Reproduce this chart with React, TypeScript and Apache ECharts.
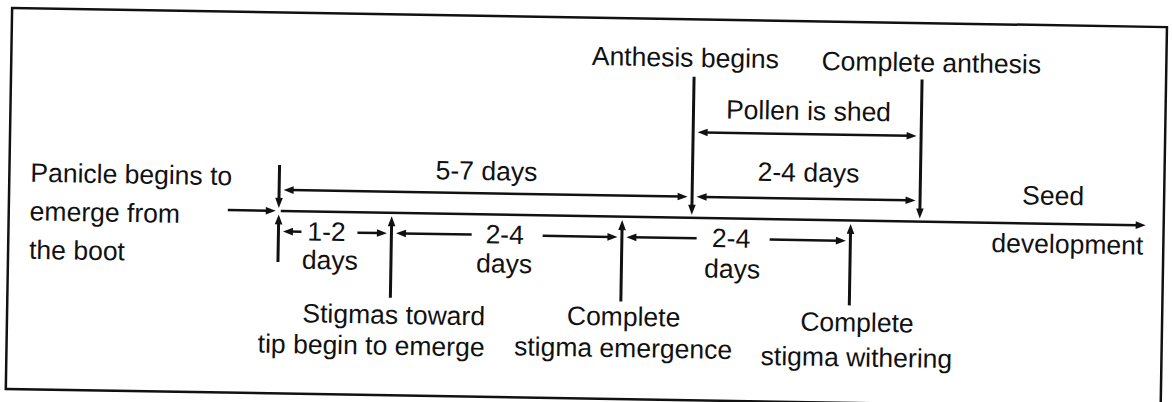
import React, { useEffect, useRef } from "react";
import * as echarts from "echarts";

// ---------------- data ----------------
// Stages of panicle development, placed along the (unscaled) timeline axis
const stageNames = [
  "Panicle begins to emerge from the boot",
  "Stigmas toward tip begin to emerge",
  "Complete stigma emergence",
  "Anthesis begins",
  "Complete stigma withering",
  "Complete anthesis",
];
const stageAt = [279, 392, 622.5, 692, 851, 920];
const stageSide = ["both", "below", "below", "above", "below", "above"];
const stageLines = [
  ["Panicle begins to", "emerge from", "the boot"],
  ["Stigmas toward", "tip begin to emerge"],
  ["Complete", "stigma emergence"],
  ["Anthesis begins"],
  ["Complete", "stigma withering"],
  ["Complete anthesis"],
];

// Intervals between stages
const spanLabels = ["Pollen is shed", "5-7 days", "2-4 days", "1-2", "2-4", "2-4"];
const spanUnit = ["", "", "", "days", "days", "days"];
const spanFrom = [3, 0, 3, 0, 1, 2];
const spanTo = [5, 3, 5, 1, 2, 4];

const endLabels = ["Seed", "development"];

// ---------------- layout ----------------
const W = 1172;
const H = 402;
const SKEW = 0.95; // the scanned figure is slightly rotated
const MAIN_Y = 216;
const TIMELINE_START = 228;
const TIMELINE_END = 1146;
const INK = "#111";
const FONT = "Liberation Sans, Arial, Helvetica, sans-serif";
const FS = 26.5;
const HEAD_L = 10;
const HEAD_W = 3.8;
const GAP = 4.5;

const stageTop = [170, 0, 0, 75, 0, 74];
const stageBottom = [267, 301, 301, 0, 301, 0];
const stageLabelX = [30, 487, 625.5, 683, 859, 929];
const stageLabelAlign = ["left", "right", "center", "center", "center", "center"];
const stageLabelY = [[182, 220.5, 259], [318, 349], [316, 347.5], [56], [318, 353], [57]];

const spanRowY = [130.5, 195, 195, 236.5, 236.5, 236.5];
const spanLabelY = [107.3, 172.7, 169, 236, 236, 236];
const spanLabelShift = [1, 0.5, 2, -8.5, -2, -5];
const spanUnitY = [0, 0, 0, 264.5, 265, 266.5];
const spanUnitShift = [0, 0, 0, 4, 0, 1.5];
const spanInnerGap = [null, null, null, [25, 31], [33, 38], [34.5, 38.5]];

const endLabelX = [1053, 1068];
const endLabelY = [188, 236.3];

// ---------------- geometry built from data ----------------
type Seg = { x1: number; y1: number; x2: number; y2: number; head: [boolean, boolean]; w: number };
const segs: Seg[] = [];
segs.push({ x1: TIMELINE_START, y1: MAIN_Y, x2: stageAt[0] - 3, y2: MAIN_Y, head: [false, true], w: 2.5 });
segs.push({ x1: stageAt[0] + 2, y1: MAIN_Y, x2: TIMELINE_END, y2: MAIN_Y, head: [false, true], w: 2.5 });
stageAt.forEach((x, i) => {
  const side = stageSide[i];
  if (side === "above" || side === "both") {
    segs.push({ x1: x, y1: stageTop[i], x2: x, y2: MAIN_Y - 3, head: [false, true], w: 3 });
  }
  if (side === "below" || side === "both") {
    segs.push({ x1: x, y1: stageBottom[i], x2: x, y2: MAIN_Y + 3.5, head: [false, true], w: 3 });
  }
});
spanLabels.forEach((_, i) => {
  const a = stageAt[spanFrom[i]] + GAP;
  const b = stageAt[spanTo[i]] - GAP;
  const y = spanRowY[i];
  const g = spanInnerGap[i];
  if (!g) {
    segs.push({ x1: a, y1: y, x2: b, y2: y, head: [true, true], w: 2.5 });
  } else {
    const c = (stageAt[spanFrom[i]] + stageAt[spanTo[i]]) / 2 + spanLabelShift[i];
    segs.push({ x1: c - g[0], y1: y, x2: a, y2: y, head: [false, true], w: 2.5 });
    segs.push({ x1: c + g[1], y1: y, x2: b, y2: y, head: [false, true], w: 2.5 });
  }
});

type Txt = { x: number; y: number; text: string; align: string };
const texts: Txt[] = [];
stageLines.forEach((lines, i) => {
  lines.forEach((t, j) => {
    texts.push({ x: stageLabelX[i], y: stageLabelY[i][j], text: t, align: stageLabelAlign[i] });
  });
});
spanLabels.forEach((t, i) => {
  const c = (stageAt[spanFrom[i]] + stageAt[spanTo[i]]) / 2;
  texts.push({ x: c + spanLabelShift[i], y: spanLabelY[i], text: t, align: "center" });
  if (spanUnit[i]) {
    texts.push({ x: c + spanLabelShift[i] + spanUnitShift[i], y: spanUnitY[i], text: spanUnit[i], align: "center" });
  }
});
endLabels.forEach((t, i) => {
  texts.push({ x: endLabelX[i], y: endLabelY[i], text: t, align: "center" });
});

function headPoly(tip: number[], ux: number, uy: number) {
  const nx = -uy;
  const ny = ux;
  const bx = tip[0] - ux * HEAD_L;
  const by = tip[1] - uy * HEAD_L;
  return {
    type: "polygon",
    shape: {
      points: [
        [tip[0], tip[1]],
        [bx + nx * HEAD_W, by + ny * HEAD_W],
        [bx - nx * HEAD_W, by - ny * HEAD_W],
      ],
    },
    style: { fill: INK },
  };
}

export default function App() {
  const ref = useRef<HTMLDivElement>(null);
  useEffect(() => {
    if (!ref.current) return;
    const chart = echarts.init(ref.current, null, { renderer: "svg" });
    const option: any = {
      animation: false,
      backgroundColor: "#ffffff",
      grid: { left: 0, right: 0, top: 0, bottom: 0 },
      xAxis: { type: "value", min: 0, max: W, show: false },
      yAxis: { type: "value", min: 0, max: H, inverse: true, show: false },
      graphic: [
        {
          type: "rect",
          silent: true,
          shape: { x: 9, y: 17.5, width: 1155, height: 381 },
          style: { fill: "none", stroke: INK, lineWidth: 2.5 },
        },
      ],
      series: [
        {
          type: "custom",
          name: "timeline",
          silent: true,
          data: segs.map((s) => [s.x1, s.y1, s.x2, s.y2]),
          renderItem: (params: any, api: any) => {
            const s = segs[params.dataIndex];
            const p1 = api.coord([s.x1, s.y1]);
            const p2 = api.coord([s.x2, s.y2]);
            const dx = p2[0] - p1[0];
            const dy = p2[1] - p1[1];
            const len = Math.hypot(dx, dy) || 1;
            const ux = dx / len;
            const uy = dy / len;
            const children: any[] = [];
            let a = [p1[0], p1[1]];
            let b = [p2[0], p2[1]];
            if (s.head[0]) {
              a = [p1[0] + ux * HEAD_L * 0.7, p1[1] + uy * HEAD_L * 0.7];
              children.push(headPoly(p1, -ux, -uy));
            }
            if (s.head[1]) {
              b = [p2[0] - ux * HEAD_L * 0.7, p2[1] - uy * HEAD_L * 0.7];
              children.push(headPoly(p2, ux, uy));
            }
            children.unshift({
              type: "line",
              shape: { x1: a[0], y1: a[1], x2: b[0], y2: b[1] },
              style: { stroke: INK, lineWidth: s.w },
            });
            return { type: "group", children };
          },
        },
        {
          type: "custom",
          name: "labels",
          silent: true,
          data: texts.map((t) => [t.x, t.y]),
          renderItem: (params: any, api: any) => {
            const t = texts[params.dataIndex];
            const p = api.coord([t.x, t.y]);
            return {
              type: "text",
              x: p[0],
              y: p[1],
              style: {
                text: t.text,
                fontSize: FS,
                fontFamily: FONT,
                fill: INK,
                align: t.align,
                verticalAlign: "middle",
              },
            };
          },
        },
      ],
    };
    chart.setOption(option);
    return () => chart.dispose();
  }, []);
  return (
    <div
      style={{
        position: "fixed",
        left: 0,
        top: 0,
        width: W,
        height: H,
        overflow: "hidden",
        background: "#fff",
      }}
    >
      <div
        ref={ref}
        style={{
          width: W,
          height: H,
          transform: `rotate(${SKEW}deg)`,
          transformOrigin: "586px 201px",
        }}
      />
    </div>
  );
}
